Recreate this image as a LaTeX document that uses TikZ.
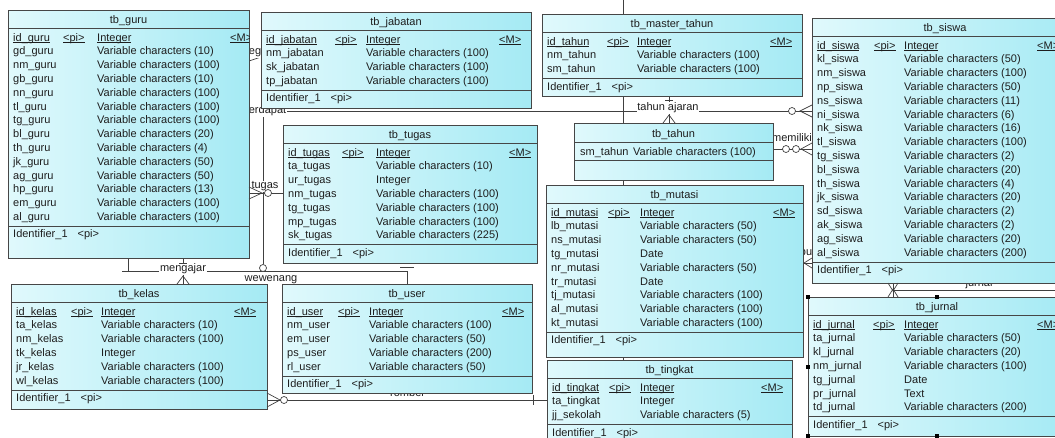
\documentclass[tikz,border=0pt]{standalone}
\usepackage{fontspec}
\setmainfont{Liberation Sans}
\usetikzlibrary{backgrounds}
\definecolor{tableborder}{RGB}{70,70,70}
\definecolor{tablelight}{RGB}{224,249,252}
\definecolor{tablecyan}{RGB}{165,234,244}
\definecolor{celltext}{RGB}{30,30,30}

\begin{document}
\begin{tikzpicture}[x=1pt, y=-1pt,
    table/.style={draw=tableborder, line width=0.9pt, left color=tablelight, right color=tablecyan,
      inner sep=0pt, outer sep=0pt, anchor=north west},
    tabline/.style={draw=tableborder, line width=0.9pt},
    cell/.style={inner sep=0pt, anchor=base west, text=celltext, font=\fontsize{11}{13}\selectfont},
    tabtitle/.style={cell, anchor=base},
    rel/.style={draw=black!75, line width=0.7pt},
    rellabel/.style={fill=white, inner sep=0.8pt, text=celltext, font=\fontsize{11}{13}\selectfont},
    handle/.style={fill=black, minimum size=4pt, inner sep=0pt}]
  \useasboundingbox (0,0) rectangle (1055,437);
  % A table: #1 = name, #2/#3 = top left, #4/#5 = bottom right, #6 = title,
  % #7/#8 = offsets of the <pi> and type columns, #9 = attribute/type list.
  % \mgap = distance from the type column to <M>.
  \def\mgap{133}
  \newcommand{\ertable}[9]{%
    \node[table, minimum width={#4-#2}, minimum height={#5-#3}] (#1) at (#2,#3) {};
    \draw[tabline] (#2,#3+18) -- (#4,#3+18);
    \node[tabtitle] at ({(#2+#4)/2},#3+13) {#6};
    \begin{scope}
      \clip (#2,#3) rectangle (#4,#5);
      \foreach \attr/\type [count=\i from 0] in {#9} {
        \ifnum\i=0
          \node[cell] at (#2+5,#3+31) {\underline{\smash{\attr}}};
          \node[cell] at (#2+#7,#3+31) {\underline{\smash{<pi>}}};
          \node[cell] at (#2+#8,#3+31) {\underline{\smash{\type}}};
          \node[cell] at (#2+#8+\mgap,#3+31) {\underline{\smash{<M>}}};
        \else
          \node[cell] at (#2+5,#3+31+13.8*\i) {\attr};
          \node[cell] at (#2+#8,#3+31+13.8*\i) {\type};
        \fi
        \xdef\lastrow{\i}
      }
      \draw[tabline] (#2,#3+37+13.8*\lastrow) -- (#4,#3+37+13.8*\lastrow);
      \node[cell] at (#2+5,#3+48.5+13.8*\lastrow) {Identifier\_1\hspace{10pt}<pi>};
    \end{scope}}

  \ertable{guru}{8}{10}{249}{258}{tb\_guru}{55}{89}{id\_guru/Integer,
    gd\_guru/Variable characters (10), nm\_guru/Variable characters (100),
    gb\_guru/Variable characters (10), nn\_guru/Variable characters (100),
    tl\_guru/Variable characters (100), tg\_guru/Variable characters (100),
    bl\_guru/Variable characters (20), th\_guru/Variable characters (4),
    jk\_guru/Variable characters (50), ag\_guru/Variable characters (50),
    hp\_guru/Variable characters (13), em\_guru/Variable characters (100),
    al\_guru/Variable characters (100)}
  \ertable{jabatan}{261}{12}{531}{108}{tb\_jabatan}{74}{105}{id\_jabatan/Integer,
    nm\_jabatan/Variable characters (100), sk\_jabatan/Variable characters (100),
    tp\_jabatan/Variable characters (100)}
  \ertable{mastertahun}{542}{14}{802}{96}{tb\_master\_tahun}{65}{95}{id\_tahun/Integer,
    nm\_tahun/Variable characters (100), sm\_tahun/Variable characters (100)}
  \ertable{siswa}{812}{18}{1078}{283}{tb\_siswa}{62}{92}{id\_siswa/Integer,
    kl\_siswa/Variable characters (50), nm\_siswa/Variable characters (100),
    np\_siswa/Variable characters (50), ns\_siswa/Variable characters (11),
    ni\_siswa/Variable characters (6), nk\_siswa/Variable characters (16),
    tl\_siswa/Variable characters (100), tg\_siswa/Variable characters (2),
    bl\_siswa/Variable characters (20), th\_siswa/Variable characters (4),
    jk\_siswa/Variable characters (20), sd\_siswa/Variable characters (2),
    ak\_siswa/Variable characters (2), ag\_siswa/Variable characters (20),
    al\_siswa/Variable characters (200)}
  \ertable{tugas}{283}{125}{537}{263}{tb\_tugas}{59}{93}{id\_tugas/Integer,
    ta\_tugas/Variable characters (10), ur\_tugas/Integer,
    nm\_tugas/Variable characters (100), tg\_tugas/Variable characters (100),
    mp\_tugas/Variable characters (100), sk\_tugas/Variable characters (225)}
  \ertable{mutasi}{546}{185}{803}{357}{tb\_mutasi}{62}{94}{id\_mutasi/Integer,
    lb\_mutasi/Variable characters (50), ns\_mutasi/Variable characters (50),
    tg\_mutasi/Date, nr\_mutasi/Variable characters (50), tr\_mutasi/Date,
    tj\_mutasi/Variable characters (100), al\_mutasi/Variable characters (100),
    kt\_mutasi/Variable characters (100)}
  \def\mgap{121}
  \ertable{tingkat}{547}{360}{792}{445}{tb\_tingkat}{62}{93}{id\_tingkat/Integer,
    ta\_tingkat/Integer, jj\_sekolah/Variable characters (5)}
  \def\mgap{133}
  \ertable{kelas}{11}{284}{267}{409}{tb\_kelas}{60}{90}{id\_kelas/Integer,
    ta\_kelas/Variable characters (10), nm\_kelas/Variable characters (100),
    tk\_kelas/Integer, jr\_kelas/Variable characters (100),
    wl\_kelas/Variable characters (100)}
  \ertable{user}{282}{284}{532}{393}{tb\_user}{56}{87}{id\_user/Integer,
    nm\_user/Variable characters (100), em\_user/Variable characters (50),
    ps\_user/Variable characters (200), rl\_user/Variable characters (50)}
  \ertable{jurnal}{808}{297}{1066}{436}{tb\_jurnal}{65}{96}{id\_jurnal/Integer,
    ta\_jurnal/Variable characters (50), kl\_jurnal/Variable characters (20),
    nm\_jurnal/Variable characters (100), tg\_jurnal/Date, pr\_jurnal/Text,
    td\_jurnal/Variable characters (200)}

  % tb_tahun has one attribute and an empty identifier part
  \node[table, minimum width=199, minimum height=57] (tahun) at (574,123) {};
  \draw[tabline] (574,142) -- (773,142);
  \draw[tabline] (574,160) -- (773,160);
  \node[tabtitle] at (673.5,137) {tb\_tahun};
  \node[cell] at (580,155) {sm\_tahun};
  \node[cell] at (633,155) {Variable characters (100)};

  \begin{scope}[on background layer]
    \coordinate (midtop) at (623,-5);
    \coordinate (midbot) at (623,445);
    \draw[rel] (midtop) -- (midbot);
    \draw[rel] (guru.east |- 0,111) -- (siswa.west |- 0,111);
    \draw[rel] (263,111) -- (263,264);
    \draw[rel] (guru.south -| 128,0) -- (128,271) -- (407,271) -- (user.north -| 407,0);
    \draw[rel] (guru.south -| 183,0) -- (kelas.north -| 183,0);
    \draw[rel] (guru.east |- 0,193) -- (tugas.west |- 0,193);
    \draw[rel] (guru.east |- 0,61) -- (jabatan.west |- 0,57);
    \draw[rel] (mastertahun.south -| 669,0) -- (tahun.north -| 669,0);
    \draw[rel] (tahun.east |- 0,149) -- (siswa.west |- 0,149);
    \draw[rel] (mutasi.east |- 0,263) -- (siswa.west |- 0,263);
    \draw[rel] (siswa.south -| 893,0) -- (jurnal.north -| 893,0);
    \draw[rel] (893,290) -- (1060,290);
    \draw[rel] (kelas.east |- 0,400) -- (tingkat.west |- 0,400);
    % relation names
    \node[rellabel] (lbl_terdapat) at (266,111) {terdapat};
    \node[rellabel] (lbl_eg) at (255,53) {eg};
    \node[rellabel] (lbl_tugas) at (265,186) {tugas};
    \node[rellabel] (lbl_tahunajaran) at (668,108) {tahun ajaran};
    \node[rellabel] (lbl_memiliki) at (792,138) {memiliki};
    \node[rellabel] (lbl_pu) at (806,254) {pu};
    \node[rellabel] (lbl_mengajar) at (183,269) {mengajar};
    \node[rellabel] (lbl_wewenang) at (271,280) {wewenang};
    \node[rellabel] (lbl_jurnal) at (979,284) {jurnal};
    \node[rellabel] (lbl_rombel) at (407,393) {rombel};
  \end{scope}

  % cardinality marks
  \draw[rel, fill=white] (792,111) circle (3.5);
  \draw[rel] (siswa.west |- 0,105) -- (800,111) -- (siswa.west |- 0,117);
  \draw[rel, fill=white] (263,268) circle (3.5);
  \draw[rel] (guru.east |- 0,187) -- (262,193) -- (guru.east |- 0,199);
  \draw[rel, fill=white] (268,193) circle (3.5);
  \draw[rel] (665,100) -- (673,100);
  \draw[rel] (663,123) -- (669,115) -- (675,123);
  \draw[rel, fill=white] (786,149) circle (3.5);
  \draw[rel, fill=white] (796,149) circle (3.5);
  \draw[rel] (siswa.west |- 0,143) -- (801,149) -- (siswa.west |- 0,155);
  \draw[rel] (siswa.west |- 0,258) -- (804,263) -- (siswa.west |- 0,268);
  \draw[rel] (179,263) -- (187,263);
  \draw[rel] (177,284) -- (183,276) -- (189,284);
  \draw[rel] (122,271) -- (128,271);
  \draw[rel] (400,267) -- (414,267);
  \draw[rel] (kelas.east |- 0,393) -- (280,400) -- (kelas.east |- 0,407);
  \draw[rel, fill=white] (284,400) circle (3.5);
  \draw[rel] (533,395) -- (533,405);
  \draw[rel] (888,283) -- (893,291) -- (898,283);
  \draw[rel] (888,297) -- (893,289) -- (898,297);
  \foreach \a [count=\k] in {north west, north, west, south west, south}
    \node[handle] (handle\k) at (jurnal.\a) {};
\end{tikzpicture}
\end{document}
